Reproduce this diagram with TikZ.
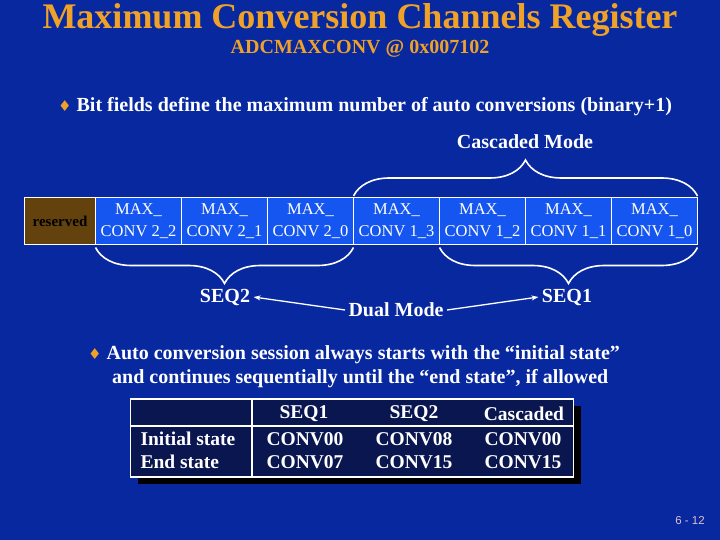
\documentclass[tikz,border=0pt]{standalone}
\usepackage{fontspec}
\setmainfont{Liberation Serif}
\setsansfont{Liberation Sans}
\usepackage{xcolor}
\usetikzlibrary{arrows.meta,positioning,decorations.pathreplacing,shadows}

\definecolor{slideblue}{RGB}{8,40,160}
\definecolor{cellblue}{RGB}{22,86,240}
\definecolor{resbrown}{RGB}{100,66,14}
\definecolor{tabnavy}{RGB}{10,22,80}
\definecolor{titleorange}{RGB}{240,162,40}
\definecolor{pagepink}{RGB}{225,190,205}

\newcommand{\fsz}[1]{\fontsize{#1}{1.2\dimexpr #1pt\relax}\selectfont}
\newcommand{\dia}{{\color{titleorange}\fontspec{DejaVu Sans}\fsz{15}♦}}

\begin{document}
\begin{tikzpicture}[
    x=1pt, y=-1pt,
    title/.style={text=titleorange, font=\bfseries\fsz{36}},
    subtitle/.style={text=titleorange, font=\bfseries\fsz{20}},
    bullet/.style={text=white, font=\bfseries\fsz{20}, anchor=west, inner sep=0pt},
    regcell/.style={draw=white, line width=1.5pt, fill=cellblue, text=white,
                    minimum width=86pt, minimum height=47pt, inner sep=0pt,
                    outer sep=0pt, align=center,
                    font=\fontsize{16.5}{22}\selectfont},
    rsvcell/.style={regcell, fill=resbrown, text=black, minimum width=71pt,
                    font=\bfseries\fsz{15}},
    brc/.style={draw=white, line width=1.6pt,
                decorate, decoration={brace, amplitude=36pt}},
    lbl/.style={text=white, font=\bfseries\fsz{20}},
    arr/.style={draw=white, line width=1.3pt, -{Stealth[length=7pt, width=5pt]}},
    tabtext/.style={text=white, font=\bfseries\fsz{19.5}}
]
\useasboundingbox[fill=slideblue] (0,0) rectangle (720,540);

% heading
\node[title]    (head) at (360,20) {Maximum Conversion Channels Register};
\node[subtitle] (addr) at (360,49) {ADCMAXCONV @ 0x007102};
\node[bullet]   (b1)   at (58,107) {\dia\hspace{5pt}Bit fields define the maximum number of auto conversions (binary+1)};

% register
\node[rsvcell] (rsv) at (60,221) {reserved};
\node[regcell, right=0pt of rsv] (c22) {MAX\_\\CONV 2\_2};
\node[regcell, right=0pt of c22] (c21) {MAX\_\\CONV 2\_1};
\node[regcell, right=0pt of c21] (c20) {MAX\_\\CONV 2\_0};
\node[regcell, right=0pt of c20] (c13) {MAX\_\\CONV 1\_3};
\node[regcell, right=0pt of c13] (c12) {MAX\_\\CONV 1\_2};
\node[regcell, right=0pt of c12] (c11) {MAX\_\\CONV 1\_1};
\node[regcell, right=0pt of c11] (c10) {MAX\_\\CONV 1\_0};

% cascaded / dual mode
\node[lbl] (casc) at (525,142) {Cascaded Mode};
\draw[brc] ([yshift=1.5pt]c13.north west) -- ([yshift=1.5pt]c10.north east);
\draw[brc] ([yshift=-3pt]c20.south east) -- ([yshift=-3pt]c22.south west);
\draw[brc] ([yshift=-3pt]c10.south east) -- ([yshift=-3pt]c12.south west);

\node[lbl] (seq2) at (225,297) {SEQ2};
\node[lbl] (seq1) at (567,297) {SEQ1};
\node[lbl] (dual) at (396,310) {Dual Mode};
\draw[arr] (dual.west) -- (seq2.east);
\draw[arr] (dual.east) -- (seq1.west);

% second bullet
\node[bullet] (b2a) at (88,355) {\dia\hspace{5pt}Auto conversion session always starts with the “initial state”};
\node[bullet] (b2b) at (112,379) {and continues sequentially until the “end state”, if allowed};

% table
\node[draw=white, line width=1.5pt, fill=tabnavy, minimum width=443pt,
      minimum height=78pt, inner sep=0pt,
      drop shadow={shadow xshift=7pt, shadow yshift=-7pt, fill=black, opacity=1}]
      (tab) at (352,438) {};
\draw[white, line width=1.5pt] (tab.north -| 252,0) -- (tab.south -| 252,0);
\draw[white, line width=1.5pt] (tab.west |- 0,426) -- (tab.east |- 0,426);
\node[tabtext] (h1) at (304,414) {SEQ1};
\node[tabtext] (h2) at (414,414) {SEQ2};
\node[tabtext] (h3) at (524,414) {Cascaded};
\node[tabtext, anchor=west] (r1) at (137,439) {Initial state};
\node[tabtext, anchor=west] (r2) at (137,462) {End state};
\node[tabtext] (v11) at (305,439) {CONV00};
\node[tabtext] (v12) at (414,439) {CONV08};
\node[tabtext] (v13) at (523,439) {CONV00};
\node[tabtext] (v21) at (305,462) {CONV07};
\node[tabtext] (v22) at (414,462) {CONV15};
\node[tabtext] (v23) at (523,462) {CONV15};

\node[text=pagepink, font=\sffamily\fsz{11.5}] (page) at (690,521) {6 - 12};
\end{tikzpicture}
\end{document}
